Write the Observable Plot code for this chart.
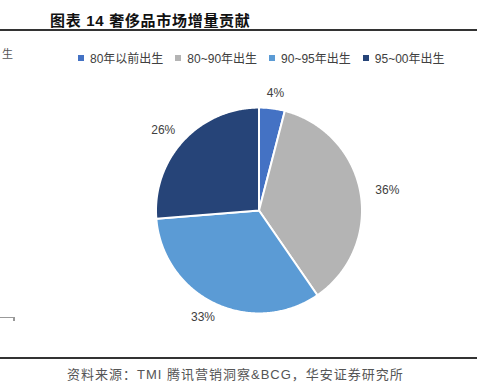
<!DOCTYPE html>
<html><head><meta charset="utf-8">
<script src="https://cdn.jsdelivr.net/npm/d3@7"></script>
<script src="https://cdn.jsdelivr.net/npm/@observablehq/plot@0.6"></script>
<style>
body{margin:0;background:#fff;}
#wrap{position:relative;width:479px;height:389px;overflow:hidden;font-family:"Liberation Sans","Noto Sans CJK SC",sans-serif;}
.abs{position:absolute;white-space:nowrap;}
#title{left:50px;top:9px;font-size:15px;font-weight:bold;letter-spacing:0.7px;color:#111;font-family:"Liberation Sans","Noto Sans CJK SC",sans-serif;}
.hline{position:absolute;left:0;width:477px;height:1px;background:#333;}
#src{left:67px;top:364px;font-size:13px;letter-spacing:1px;color:#555;}
#leg{left:78px;top:41px;}
#chart{left:0;top:70px;}
</style></head>
<body><div id="wrap">
<div id="title" class="abs">图表 14 奢侈品市场增量贡献</div>
<div class="hline" style="top:29px;height:1.5px;"></div>
<div class="abs" style="left:2px;top:45px;font-size:11px;color:#555;">生</div>
<div id="leg" class="abs"></div>
<div id="chart" class="abs"></div>
<div class="abs" style="left:0;top:317px;width:14px;height:1px;background:#999;"></div>
<div class="abs" style="left:13px;top:317px;width:1.5px;height:4px;background:#999;"></div>
<div class="hline" style="top:357px;height:1.5px;"></div>
<div id="src" class="abs">资料来源：TMI 腾讯营销洞察&amp;BCG，华安证券研究所</div>
</div>
<script>
const categories = ["80年以前出生", "80~90年出生", "90~95年出生", "95~00年出生"];
const values = [4, 36, 33, 26];
const labels = ["4%", "36%", "33%", "26%"];
const colors = ["#4472C4", "#B4B4B4", "#5B9BD5", "#264478"];

const rows = categories.map((c, i) => ({cat: c, value: values[i], label: labels[i]}));
const arcs = d3.pie().sort(null).value(d => d.value)(rows);

const pts = [];
for (const a of arcs) {
  pts.push({cat: a.data.cat, x: 0, y: 0});
  const n = Math.max(2, Math.ceil((a.endAngle - a.startAngle) / 0.01));
  for (let k = 0; k <= n; k++) {
    const t = a.startAngle + (a.endAngle - a.startAngle) * k / n;
    pts.push({cat: a.data.cat, x: Math.sin(t), y: Math.cos(t)});
  }
}
const lr = 1.15;
const lab = arcs.map(a => {
  const m = (a.startAngle + a.endAngle) / 2;
  return {text: a.data.label, x: lr * Math.sin(m) * 1.1, y: lr * Math.cos(m)};
});

const color = {domain: categories, range: colors};
const plot = Plot.plot({
  width: 479, height: 280,
  marginLeft: 104, marginRight: 66, marginTop: 0, marginBottom: 0,
  x: {domain: [-1.5, 1.5], axis: null},
  y: {domain: [-1.36, 1.36], axis: null},
  color,
  style: {fontFamily: '"Liberation Sans","Noto Sans CJK SC",sans-serif', background: "transparent"},
  marks: [
    Plot.line(pts, {x: "x", y: "y", z: "cat", fill: "cat", stroke: "white", strokeWidth: 2, curve: "linear-closed"}),
    Plot.text(lab, {x: "x", y: "y", text: "text", fontSize: 12, fill: "#404040"})
  ]
});
document.getElementById("chart").appendChild(plot);

const leg = Plot.legend({
  color, legend: "swatches", swatchSize: 6,
  style: {fontSize: "12px", color: "#404040", fontFamily: '"Liberation Sans","Noto Sans CJK SC",sans-serif'}
});
document.getElementById("leg").appendChild(leg);
</script>
</body></html>
